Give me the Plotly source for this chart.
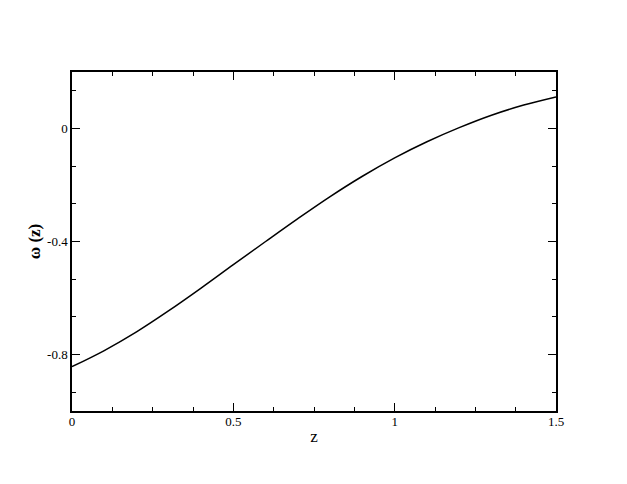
import plotly.graph_objects as go

# 读图得到的 ω(z) 曲线
z = [0.0, 0.1, 0.2, 0.3, 0.4, 0.5, 0.6, 0.7, 0.8, 0.9, 1.0, 1.1, 1.2, 1.3, 1.4, 1.5]
w = [-0.843, -0.786, -0.720, -0.645, -0.565, -0.482, -0.400, -0.319, -0.241,
     -0.169, -0.104, -0.047, 0.003, 0.047, 0.083, 0.112]

x_ticks = [0, 0.5, 1, 1.5]
x_labels = ["0", "0.5", "1", "1.5"]
y_ticks = [0, -0.4, -0.8]
y_labels = ["0", "-0.4", "-0.8"]

FONT = "Liberation Serif, Times New Roman, serif"

fig = go.Figure()
fig.add_trace(go.Scatter(
    x=z, y=w, mode="lines",
    line=dict(color="black", width=1.5, shape="spline", smoothing=1.0),
    showlegend=False,
))

axis_common = dict(
    showline=True, linecolor="black", linewidth=1.5,
    mirror="allticks", ticks="inside", ticklen=8, tickwidth=1,
    tickcolor="black", showgrid=False, zeroline=False,
    tickfont=dict(family=FONT, size=13, color="black"),
)

fig.update_xaxes(
    range=[0, 1.5], tickvals=x_ticks, ticktext=x_labels,
    minor=dict(ticks="inside", ticklen=4, dtick=0.125, tick0=0, tickcolor="black"),
    ticklabelstandoff=-2,
    title=dict(text="z", font=dict(family=FONT, size=17, color="black"), standoff=2),
    **axis_common,
)
fig.update_yaxes(
    range=[-1.0, 0.2], tickvals=y_ticks, ticktext=y_labels,
    minor=dict(ticks="inside", ticklen=4, dtick=0.4 / 3, tick0=0, tickcolor="black"),
    title=dict(text="<b>ω (z)</b>", font=dict(family=FONT, size=17, color="black"), standoff=2),
    **axis_common,
)

# 页面自带 8px 边距，这里把它扣掉
fig.update_layout(
    width=611, height=468,
    margin=dict(l=64, r=63, t=64, b=65),
    plot_bgcolor="white", paper_bgcolor="white",
)

fig.write_html("out.html")
